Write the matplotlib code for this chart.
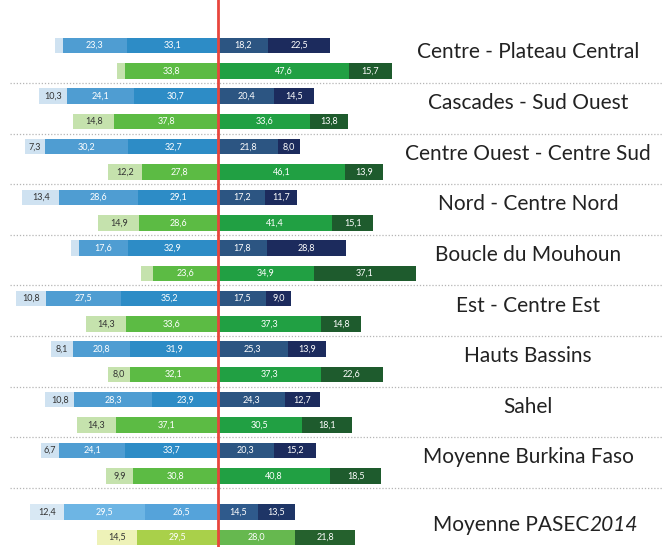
import numpy as np
import matplotlib.pyplot as plt

regions = ['Centre - Plateau Central', 'Cascades - Sud Ouest', 'Centre Ouest - Centre Sud',
           'Nord - Centre Nord', 'Boucle du Mouhoun', 'Est - Centre Est', 'Hauts Bassins',
           'Sahel', 'Moyenne Burkina Faso', 'Moyenne PASEC']

# 5 segments: 3 left of the line, 2 right
blue_vals = [
    [2.9, 23.3, 33.1, 18.2, 22.5],
    [10.3, 24.1, 30.7, 20.4, 14.5],
    [7.3, 30.2, 32.7, 21.8, 8.0],
    [13.4, 28.6, 29.1, 17.2, 11.7],
    [2.9, 17.6, 32.9, 17.8, 28.8],
    [10.8, 27.5, 35.2, 17.5, 9.0],
    [8.1, 20.8, 31.9, 25.3, 13.9],
    [10.8, 28.3, 23.9, 24.3, 12.7],
    [6.7, 24.1, 33.7, 20.3, 15.2],
    [12.4, 29.5, 26.5, 14.5, 13.5],
]
# 4 segments: 2 left, 2 right
green_vals = [
    [2.9, 33.8, 47.6, 15.7],
    [14.8, 37.8, 33.6, 13.8],
    [12.2, 27.8, 46.1, 13.9],
    [14.9, 28.6, 41.4, 15.1],
    [4.4, 23.6, 34.9, 37.1],
    [14.3, 33.6, 37.3, 14.8],
    [8.0, 32.1, 37.3, 22.6],
    [14.3, 37.1, 30.5, 18.1],
    [9.9, 30.8, 40.8, 18.5],
    [14.5, 29.5, 28.0, 21.8],
]

blue_cols = ['#cfe2f1', '#4f9dd2', '#2d8cc6', '#2c5582', '#1c2b5d']
green_cols = ['#c5e2ad', '#5cbb44', '#21a043', '#1e5b2d']
pasec_blue = ['#d8e8f4', '#6db5e4', '#55a3da', '#2f5a8c', '#1e3566']
pasec_green = ['#eef2b8', '#a9d04a', '#66b84f', '#25612d']

plt.rcParams['font.family'] = ['Lato', 'DejaVu Sans']

fig = plt.figure(figsize=(6.63, 5.47), dpi=100)
ax = fig.add_axes([0, 0, 1, 1])
px = 2.75  # pixels per percent
x0 = 218 / px
ax.set_xlim(-x0, (663 - 218) / px)
ax.set_ylim(547, 0)
ax.axis('off')

bh = 15.5
for i, reg in enumerate(regions):
    yb = 45.5 + 50.6 * i + (11 if i == 9 else 0)
    yg = yb + 25.5
    bc = pasec_blue if i == 9 else blue_cols
    gc = pasec_green if i == 9 else green_cols

    b = blue_vals[i]
    left = -sum(b[:3])
    for j, v in enumerate(b):
        ax.barh(yb, v, left=left, height=bh, color=bc[j], linewidth=0)
        if v >= 5:
            tc = '#333333' if j == 0 else 'white'
            ax.text(left + v / 2, yb, f'{v:.1f}'.replace('.', ','), ha='center', va='center',
                    fontsize=6.5, color=tc)
        left += v

    g = green_vals[i]
    left = -sum(g[:2])
    for j, v in enumerate(g):
        ax.barh(yg, v, left=left, height=bh, color=gc[j], linewidth=0)
        if v >= 5:
            tc = '#333333' if j == 0 else 'white'
            ax.text(left + v / 2, yg, f'{v:.1f}'.replace('.', ','), ha='center', va='center',
                    fontsize=6.5, color=tc)
        left += v

    if i == 9:
        ax.text(589 / px - x0, yb + 13, reg, ha='right', va='center',
                fontsize=15, color='#222222')
        ax.text(589 / px - x0, yb + 13, '2014', ha='left', va='center',
                fontsize=15, color='#222222', style='italic')
    else:
        ax.text(528 / px - x0, yb + 7, reg, ha='center', va='center',
                fontsize=15, color='#222222')
        ax.plot([10 / px - x0, 663 / px - x0], [yg + 12, yg + 12],
                color='#b5b5b5', lw=0.9, ls=(0, (1, 1.5)))

ax.axvline(0, color='#e8463d', lw=2, zorder=5)

fig.savefig('out.png', dpi=100)
